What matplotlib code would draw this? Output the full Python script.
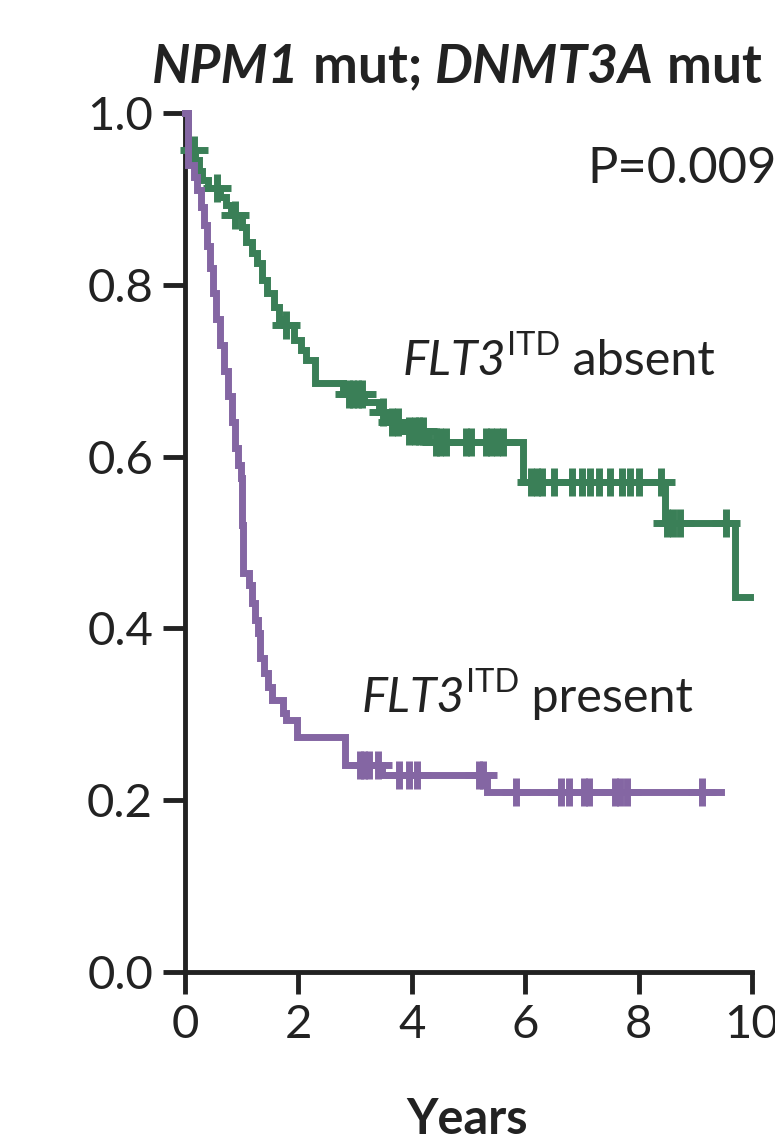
import matplotlib
matplotlib.use("Agg")
import matplotlib.pyplot as plt
import numpy as np

# Kaplan-Meier steps: (time in years, survival after drop)
absent_t = [0, 0.05, 0.18, 0.25, 0.30, 0.40, 0.62, 0.72, 0.82, 1.00, 1.08, 1.18,
            1.27, 1.35, 1.45, 1.57, 1.66, 1.74, 1.92, 2.05, 2.14, 2.30, 2.78,
            3.16, 3.43, 3.57, 3.87, 4.31, 5.97, 8.47, 9.70]
absent_s = [1.0, 0.957, 0.945, 0.932, 0.922, 0.913, 0.902, 0.893, 0.881, 0.867,
            0.850, 0.837, 0.825, 0.806, 0.790, 0.774, 0.760, 0.753, 0.736, 0.724,
            0.712, 0.686, 0.673, 0.663, 0.652, 0.640, 0.630, 0.617, 0.570, 0.523,
            0.437]
absent_end = 9.97
absent_cens = [0.15, 0.56, 0.88, 1.79, 2.90, 2.97, 3.05, 3.12, 3.50, 3.65, 3.75,
               3.95, 4.05, 4.12, 4.20, 4.42, 4.50, 4.60, 4.95, 5.05, 5.30, 5.40,
               5.50, 5.60, 6.10, 6.20, 6.30, 6.50, 6.82, 7.00, 7.15, 7.30, 7.50,
               7.70, 7.85, 8.00, 8.40, 8.50, 8.60, 8.73, 9.55]

present_t = [0, 0.05, 0.15, 0.22, 0.28, 0.34, 0.39, 0.44, 0.49, 0.55, 0.61, 0.68,
             0.76, 0.83, 0.88, 0.93, 0.98, 1.01, 1.03, 1.12, 1.18, 1.23, 1.28,
             1.32, 1.40, 1.46, 1.53, 1.72, 1.78, 1.97, 2.82, 3.47, 5.32]
present_s = [1.0, 0.94, 0.925, 0.91, 0.89, 0.87, 0.845, 0.82, 0.79, 0.76, 0.73,
             0.70, 0.67, 0.64, 0.61, 0.59, 0.575, 0.52, 0.465, 0.45, 0.43, 0.41,
             0.395, 0.365, 0.348, 0.332, 0.317, 0.302, 0.293, 0.274, 0.241, 0.229,
             0.21]
present_end = 9.46
present_cens = [3.08, 3.15, 3.25, 3.40, 3.78, 3.95, 4.10, 5.18, 5.25, 5.83, 6.63,
                6.77, 7.03, 7.12, 7.59, 7.68, 7.79, 9.11]

x_ticks = [0, 2, 4, 6, 8, 10]
y_ticks = [0.0, 0.2, 0.4, 0.6, 0.8, 1.0]

green = "#3a7f57"
purple = "#8466a3"
FONT = "Lato"

W, H = 775, 1142
fig = plt.figure(figsize=(W / 100, H / 100), dpi=100)
ax = fig.add_axes([185 / W, 170 / H, (752 - 185) / W, (972 - 113) / H])


def km_curve(t, s, end, cens, color):
    xs = list(t) + [end]
    ys = list(s) + [s[-1]]
    ax.step(xs, ys, where="post", color=color, lw=5, clip_on=False,
            solid_joinstyle="miter", zorder=3)
    # censor marks sit on the curve value at that time
    idx = np.searchsorted(t, cens, side="right") - 1
    cy = np.array(s)[idx]
    ax.plot(cens, cy, ls="none", marker="+", ms=20, mew=5, color=color,
            clip_on=False, zorder=3)


km_curve(absent_t, absent_s, absent_end, absent_cens, green)
km_curve(present_t, present_s, present_end, present_cens, purple)

ax.set_xlim(0, 10)
ax.set_ylim(0, 1)
ax.set_xticks(x_ticks)
ax.set_xticklabels([str(v) for v in x_ticks])
ax.set_yticks(y_ticks)
ax.set_yticklabels([f"{v:.1f}" for v in y_ticks])
for side in ["top", "right"]:
    ax.spines[side].set_visible(False)
for side in ["left", "bottom"]:
    ax.spines[side].set_linewidth(3.5)
    ax.spines[side].set_color("#222222")
ax.tick_params(direction="out", length=16, width=3.5, color="#222222",
               labelsize=34, labelcolor="#222222", pad=7)
for lab in ax.get_xticklabels() + ax.get_yticklabels():
    lab.set_family(FONT)

renderer = fig.canvas.get_renderer()


def pieces(x, y, parts, size):
    # draw text pieces side by side, x/y in pixels from top-left
    for s, props in parts:
        dy = props.pop("rise", 0)
        fs = props.pop("size", size)
        t = fig.text(x / W, 1 - (y - dy) / H, s, fontsize=fs, family=FONT,
                     va="baseline", ha="left", color="#222222", **props)
        bb = t.get_window_extent(renderer=renderer)
        x = bb.x1


pieces(152, 83, [("NPM1", dict(weight="bold", style="italic")),
                 (" mut; ", dict(weight="bold")),
                 ("DNMT3A", dict(weight="bold", style="italic")),
                 (" mut", dict(weight="bold"))], 38.5)

pieces(587, 183, [("P=0.009", {})], 36.5)

pieces(403, 375, [("FLT3", dict(style="italic")),
                  ("ITD", dict(size=23.5, rise=20)),
                  (" absent", {})], 35)

pieces(362, 712, [("FLT3", dict(style="italic")),
                  ("ITD", dict(size=23.5, rise=20)),
                  (" present", {})], 35)

fig.text(467 / W, 1 - 1134 / H, "Years", fontsize=35, weight="bold",
         family=FONT, ha="center", va="baseline", color="#222222")

fig.savefig("out.png", dpi=100)
